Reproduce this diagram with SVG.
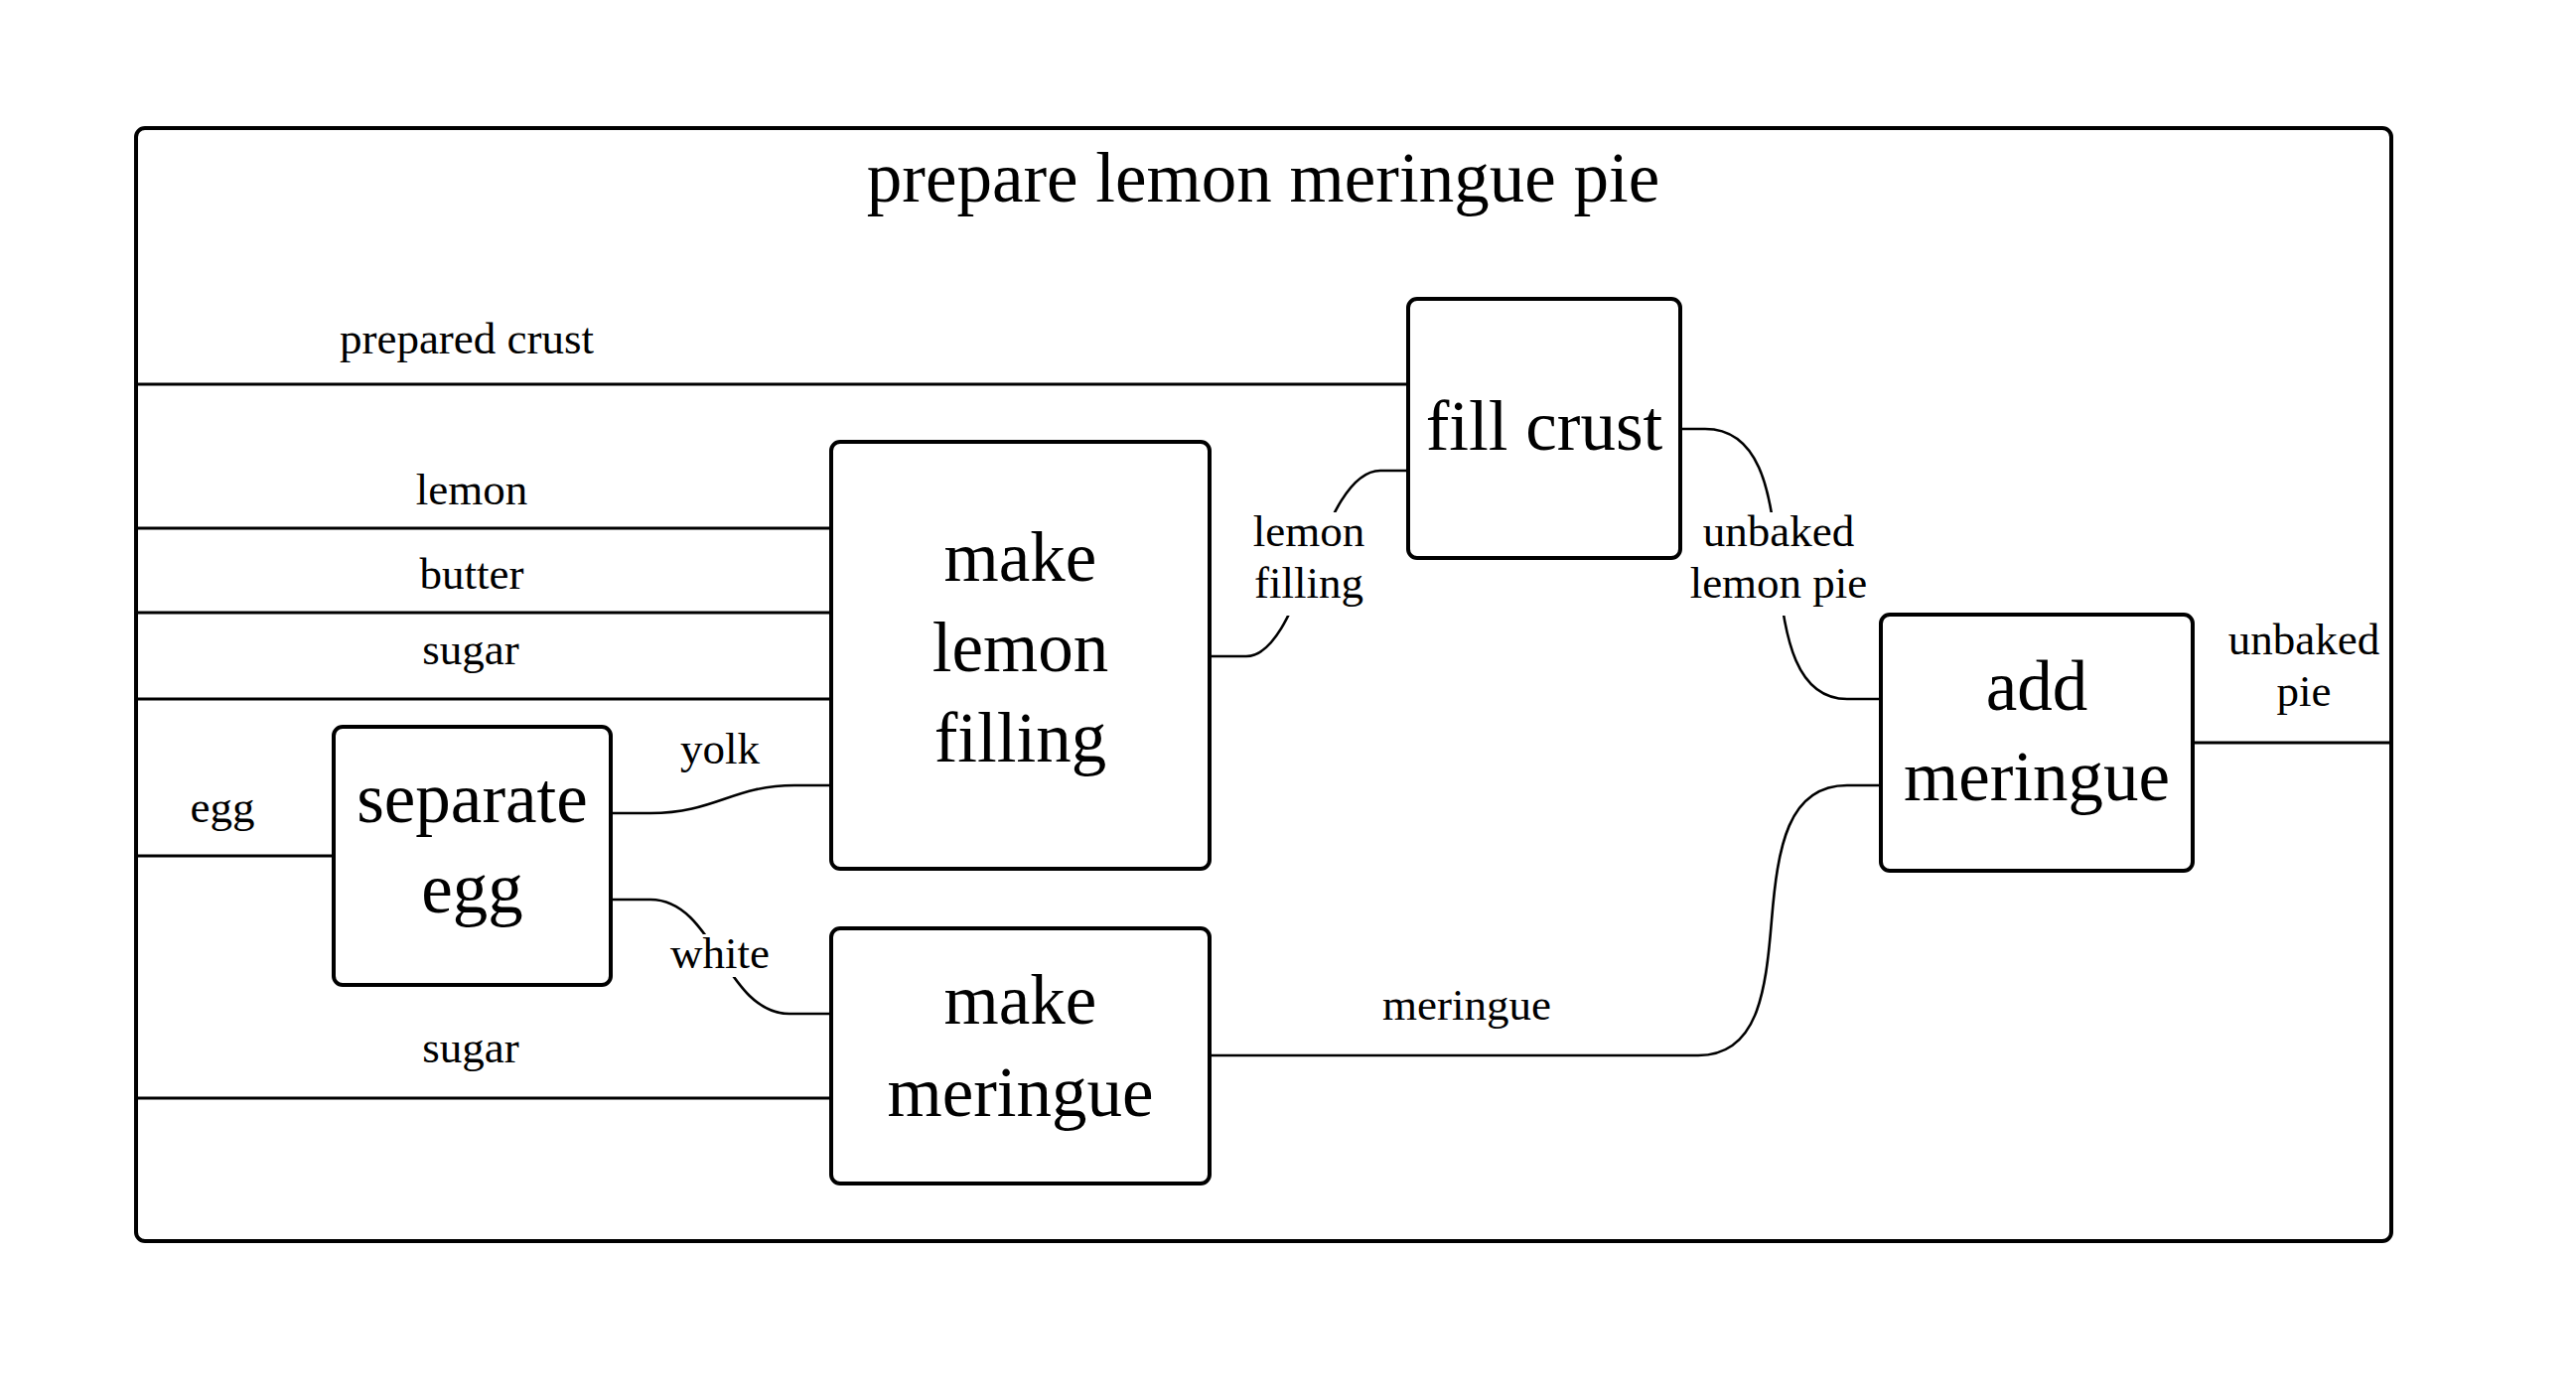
<svg xmlns="http://www.w3.org/2000/svg" width="2594" height="1404" viewBox="0 0 2594 1404">
<style>
.frame{fill:none;stroke:#000;stroke-width:4}
.box{fill:#fff;stroke:#000;stroke-width:4}
.edge{fill:none;stroke:#000;stroke-width:3}
.curve{fill:none;stroke:#000;stroke-width:2.6}
text{font-family:"Liberation Serif","Times New Roman",serif;fill:#000;text-anchor:middle}
.title{font-size:71px}
.node{font-size:71px}
.lbl{font-size:45px}
</style>
<defs>
<mask id="mLF" maskUnits="userSpaceOnUse" x="0" y="0" width="2594" height="1404">
<rect x="0" y="0" width="2594" height="1404" fill="#fff"/>
<rect x="1250" y="516" width="135" height="104" fill="#000"/>
</mask>
<mask id="mULP" maskUnits="userSpaceOnUse" x="0" y="0" width="2594" height="1404">
<rect x="0" y="0" width="2594" height="1404" fill="#fff"/>
<rect x="1700" y="516" width="185" height="104" fill="#000"/>
</mask>
<mask id="mW" maskUnits="userSpaceOnUse" x="0" y="0" width="2594" height="1404">
<rect x="0" y="0" width="2594" height="1404" fill="#fff"/>
<rect x="670" y="941" width="110" height="43" fill="#000"/>
</mask>
</defs>
<rect width="2594" height="1404" fill="#fff"/>
<g id="frame">
<rect class="frame" x="137" y="129" width="2271" height="1121" rx="9"/>
<text class="title" x="1272" y="203">prepare lemon meringue pie</text>
</g>
<g id="connectors">
<path class="edge" d="M137,387 H1418"/>
<path class="edge" d="M137,532 H837"/>
<path class="edge" d="M137,617 H837"/>
<path class="edge" d="M137,704 H837"/>
<path class="edge" d="M137,862 H336"/>
<path class="edge" d="M137,1106 H837"/>
<path class="curve" d="M615,819 H655 C720,819 738,791 800,791 H837"/>
<path class="curve" mask="url(#mW)" d="M615,906 H655 C720,906 730,1021 795,1021 H837"/>
<path class="curve" mask="url(#mLF)" d="M1218,661 H1255 C1310,661 1330,474 1390,474 H1418"/>
<path class="curve" mask="url(#mULP)" d="M1692,432 H1717 C1770,432 1784,490 1790,568 C1796,646 1810,704 1860,704 H1894"/>
<path class="curve" d="M1218,1063 H1710 C1770,1063 1778,1000 1784,927 C1790,854 1800,791 1860,791 H1894"/>
<path class="edge" d="M2208,748 H2408"/>
<text class="lbl" x="470" y="356">prepared crust</text>
<text class="lbl" x="475" y="508">lemon</text>
<text class="lbl" x="475" y="593">butter</text>
<text class="lbl" x="474" y="669">sugar</text>
<text class="lbl" x="224" y="828">egg</text>
<text class="lbl" x="474" y="1070">sugar</text>
<text class="lbl" x="725" y="769">yolk</text>
<text class="lbl" x="725" y="975">white</text>
<text class="lbl" x="1318" y="550">lemon</text>
<text class="lbl" x="1318" y="602">filling</text>
<text class="lbl" x="1791" y="550">unbaked</text>
<text class="lbl" x="1791" y="602">lemon pie</text>
<text class="lbl" x="1477" y="1027">meringue</text>
<text class="lbl" x="2320" y="659">unbaked</text>
<text class="lbl" x="2320" y="711">pie</text>
</g>
<g id="node-fill-crust">
<rect class="box" x="1418" y="301" width="274" height="261" rx="9"/>
<text class="node" x="1555" y="453">fill crust</text>
</g>
<g id="node-make-lemon-filling">
<rect class="box" x="837" y="445" width="381" height="430" rx="9"/>
<text class="node" x="1027.5" y="585">make</text>
<text class="node" x="1027.5" y="676">lemon</text>
<text class="node" x="1027.5" y="767">filling</text>
</g>
<g id="node-separate-egg">
<rect class="box" x="336" y="732" width="279" height="260" rx="9"/>
<text class="node" x="475.5" y="828">separate</text>
<text class="node" x="475.5" y="919">egg</text>
</g>
<g id="node-make-meringue">
<rect class="box" x="837" y="935" width="381" height="257" rx="9"/>
<text class="node" x="1027.5" y="1031">make</text>
<text class="node" x="1027.5" y="1124">meringue</text>
</g>
<g id="node-add-meringue">
<rect class="box" x="1894" y="619" width="314" height="258" rx="9"/>
<text class="node" x="2051" y="715">add</text>
<text class="node" x="2051" y="806">meringue</text>
</g>
</svg>
